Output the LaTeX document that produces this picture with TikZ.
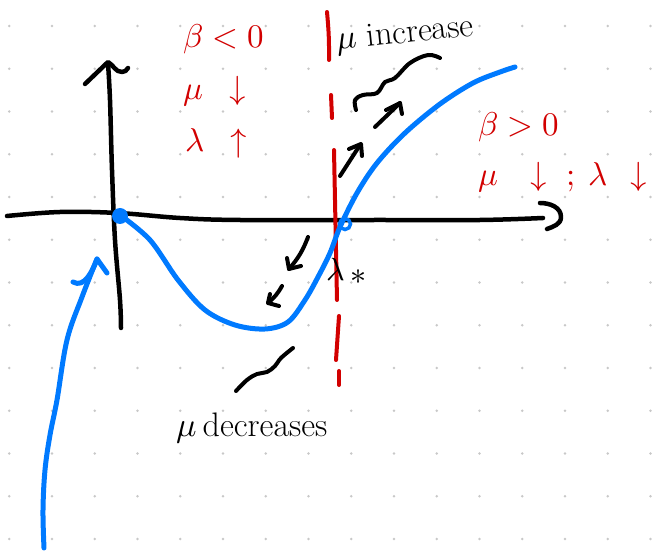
\documentclass[tikz,border=0pt]{standalone}
\usepackage{fontspec}
\usepackage{unicode-math}
\setmathfont{Latin Modern Math}
\definecolor{dotgray}{RGB}{200,200,200}
\definecolor{penblue}{RGB}{0,122,255}
\definecolor{penred}{RGB}{210,0,0}
\tikzset{
  ink/.style={line width=4.5pt, line cap=round, line join=round},
  blueink/.style={ink, draw=penblue, line width=5pt},
  redink/.style={ink, draw=penred, line width=4pt},
  blackink/.style={ink, draw=black},
  redtxt/.style={text=penred, inner sep=0pt, anchor=base west, font=\fontsize{33}{33}\selectfont},
  blktxt/.style={text=black, inner sep=0pt, anchor=base west, font=\fontsize{34}{34}\selectfont}
}
\begin{document}
\begin{tikzpicture}[x=1pt,y=-1pt]
\useasboundingbox (0,0) rectangle (654,553);
\fill[white] (0,0) rectangle (654,553);
% dot grid
\foreach \i in {0,...,15}{
  \foreach \j in {0,...,12}{
    \fill[dotgray] ({9.3+42.75*\i},{26+42.75*\j}) circle (1.4);
  }
}
% horizontal axis
\draw[blackink] plot[smooth, tension=0.6] coordinates {(7,216) (60,212) (118,213) (180,218) (240,220) (380,220) (480,220) (543,218)};
\draw[blackink] (540,203) to[out=0,in=90] (561,217) to[out=-90,in=20] (547,229);
% vertical axis
\draw[blackink] plot[smooth, tension=0.6] coordinates {(108,63) (110,100) (112,170) (115,240) (120,300) (121,328)};
\draw[blackink] (85,84) -- (108,62) to[out=-30,in=180] (122,72) to[out=0,in=-120] (128,68);
% red dashed vertical
\draw[redink] (327,12) to[bend left=3] (329,60);
\draw[redink] (331,95) -- (332,118);
\draw[redink] (334,150) -- (337,300);
\draw[redink] (339,316) -- (336,360);
\draw[redink] (339,371) -- (339,385);
% blue incoming arrow
\draw[blueink] plot[smooth, tension=0.6] coordinates {(44,548) (43,510) (45,470) (50,435) (57,400) (67,340) (82,297) (97,259)};
\draw[blueink] (73,282) to[out=-30,in=-110] (97,259) -- (107,273);
% blue main curve
\draw[blueink] plot[smooth, tension=0.55] coordinates {(120,215) (150,240) (178,280) (205,310) (235,325) (265,329) (288,322) (305,300) (318,277) (330,253) (340,227) (357,193) (377,163) (405,133) (440,104) (473,83) (500,72) (515,67)};
\node[circle, fill=penblue, minimum size=16pt, inner sep=0pt] (p1) at (120,216) {};
\node[circle, draw=penblue, line width=3.5pt, minimum size=11pt, inner sep=0pt] (p2) at (345,224) {};
% black arrows along curve
\draw[blackink, line width=4pt] (375,127) -- (400,103);
\draw[blackink, line width=4pt] (386,110) -- (400,103) -- (402,114);
\draw[blackink, line width=4pt] (340,176) -- (360,145);
\draw[blackink, line width=4pt] (349,149) -- (361,144) -- (362,156);
\draw[blackink, line width=4pt] (308,237) to[bend left=10] (289,269);
\draw[blackink, line width=4pt] (287,258) -- (289,269) -- (301,266);
\draw[blackink, line width=4pt] (282,286) to[bend left=10] (268,303);
\draw[blackink, line width=4pt] (270,294) -- (268,303) -- (279,306);
% squiggles
\draw[blackink, line width=4pt] plot[smooth, tension=0.6] coordinates {(356,110) (355,100) (363,95) (377,93) (385,82) (395,78) (410,63) (428,55) (440,58)};
\draw[blackink, line width=4pt] plot[smooth, tension=0.6] coordinates {(236,391) (247,380) (257,374) (267,372) (275,366) (281,358) (293,348)};
% red labels
\node[redtxt] (t1) at (183,48) {$\beta<0$};
\node[redtxt] (t2) at (183,100) {$\mu$\hspace{26pt}$\downarrow$};
\node[redtxt] (t3) at (185,152) {$\lambda$\hspace{26pt}$\uparrow$};
\node[redtxt] (t4) at (478,136) {$\beta>0$};
\node[redtxt] (t5) at (478,186) {$\mu$\hspace{32pt}$\downarrow$\hspace{20pt}$;$\hspace{13pt}$\lambda$\hspace{22pt}$\downarrow$};
% black labels
\node[blktxt, rotate=6] (t6) at (337,50) {$\mu$ increase};
\node[blktxt] (t7) at (176,437) {$\mu$\hspace{6pt}decreases};
\node[blktxt, font=\fontsize{32}{32}\selectfont] (t8) at (326,281) {$\lambda$\hspace{6pt}\raisebox{-4pt}{$*$}};
\end{tikzpicture}
\end{document}
